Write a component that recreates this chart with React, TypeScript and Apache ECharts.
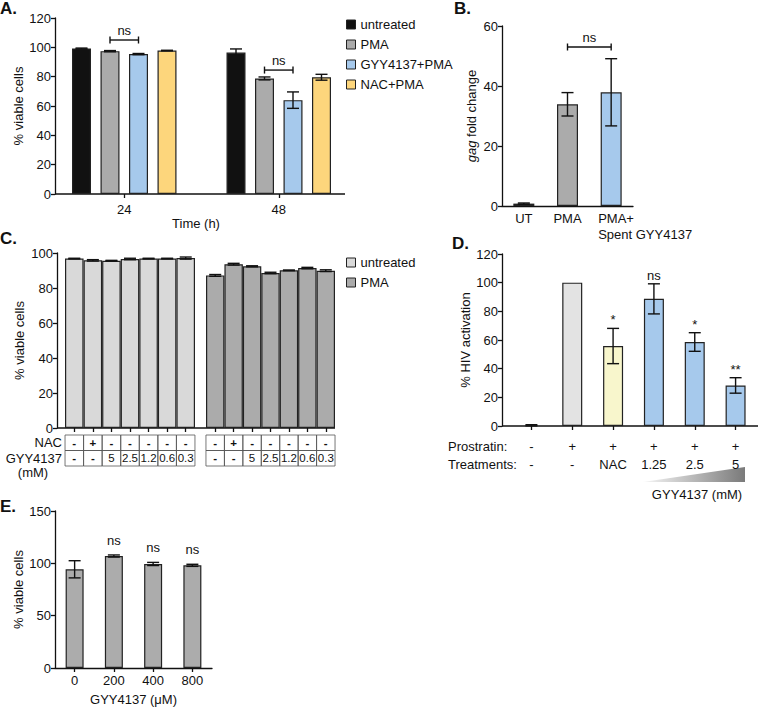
import React, { useEffect, useRef } from 'react';
import * as echarts from 'echarts';

const FONT = '"Liberation Sans", Arial, Helvetica, sans-serif';
const INK = '#111111';
const EDGE = '#222222';

// ---------- Panel A ----------
const aTimes = ['24', '48'];
const aSeriesNames = ['untreated', 'PMA', 'GYY4137+PMA', 'NAC+PMA'];
const aColors = ['#111111', '#ababab', '#a6c9ec', '#fdd67c'];
const aUntreated = [99.2, 96.4];
const aPMA = [97.4, 78.8];
const aGYY = [95.4, 64.0];
const aNAC = [97.8, 79.6];
const aUntreatedErr = [0.3, 2.5];
const aPMAErr = [0.4, 1.0];
const aGYYErr = [0.4, 5.6];
const aNACErr = [0.2, 2.0];
// [category, fromBar, toBar, value]
const aBrackets = [[0, 1, 2, 105], [1, 1, 2, 84.5]];

// ---------- Panel B ----------
const bCats = ['UT', 'PMA', 'PMA+\nSpent GYY4137'];
const bValues = [0.8, 33.9, 37.9];
const bErrors = [0.2, 3.9, 11.2];
const bColors = ['#111111', '#ababab', '#a6c9ec'];
// [fromCategory, toCategory, value]
const bBrackets = [[1, 2, 53]];

// ---------- Panel C ----------
const cNAC = ['-', '+', '-', '-', '-', '-', '-'];
const cGYY = ['-', '-', '5', '2.5', '1.2', '0.6', '0.3'];
const cUntreated = [96.8, 95.8, 95.6, 96.6, 96.8, 96.8, 97.1];
const cUntreatedErr = [0.2, 0.4, 0.2, 0.4, 0.2, 0.2, 0.6];
const cPMA = [87.2, 93.6, 92.4, 88.6, 90.1, 91.4, 89.9];
const cPMAErr = [0.5, 0.5, 0.3, 0.4, 0.2, 0.4, 0.5];

// ---------- Panel D ----------
const dProstratin = ['-', '+', '+', '+', '+', '+'];
const dTreatments = ['-', '-', 'NAC', '1.25', '2.5', '5'];
const dValues = [0.5, 100, 55.8, 88.7, 58.6, 28.3];
const dErrors = [0.4, 0, 12.3, 10.5, 6.5, 5.4];
const dColors = ['transparent', '#e3e3e3', '#f8f6cc', '#a6c9ec', '#a6c9ec', '#a6c9ec'];
const dSignif = ['', '', '*', 'ns', '*', '**'];

// ---------- Panel E ----------
const eDoses = ['0', '200', '400', '800'];
const eValues = [94.3, 107.0, 99.4, 98.1];
const eErrors = [8.2, 1.0, 1.5, 1.0];
const eSignif = ['', 'ns', 'ns', 'ns'];

const lineStyle = { color: INK, width: 1.3 };

function yAxis(grid: number, max: number, interval: number, name: string, nameGap: number, offset = 0, extra: any = {}) {
  return {
    type: 'value', gridIndex: grid, min: 0, max, interval, offset,
    axisLine: { show: true, lineStyle },
    axisTick: { show: true, length: 4, lineStyle },
    splitLine: { show: false },
    axisLabel: { fontSize: 13, color: INK, fontFamily: FONT, margin: 4 },
    name, nameLocation: 'middle', nameGap,
    nameTextStyle: { fontSize: 13, color: INK, fontFamily: FONT },
    ...extra,
  };
}

function errorBars(grid: number, data: number[][], n: number, barW: number, gap: number, capW: number) {
  return {
    type: 'custom', xAxisIndex: grid, yAxisIndex: grid, z: 5, silent: true,
    data,
    encode: { x: 0, y: 2 },
    renderItem: (params: any, api: any) => {
      const cat = api.value(0), k = api.value(1), mean = api.value(2), err = api.value(3);
      if (!err) return { type: 'group', children: [] };
      const off = (k - (n - 1) / 2) * (barW + gap);
      const pt = api.coord([cat, mean + err]);
      const pb = api.coord([cat, Math.max(0, mean - err)]);
      const x = pt[0] + off;
      const style = { stroke: INK, lineWidth: 1.4, fill: null };
      return {
        type: 'group', children: [
          { type: 'line', shape: { x1: x, y1: pt[1], x2: x, y2: pb[1] }, style },
          { type: 'line', shape: { x1: x - capW / 2, y1: pt[1], x2: x + capW / 2, y2: pt[1] }, style },
          { type: 'line', shape: { x1: x - capW / 2, y1: pb[1], x2: x + capW / 2, y2: pb[1] }, style },
        ],
      };
    },
  };
}

function bracketWithin(grid: number, data: number[][], n: number, barW: number, gap: number) {
  return {
    type: 'custom', xAxisIndex: grid, yAxisIndex: grid, z: 6, silent: true,
    data, encode: { x: 0, y: 3 },
    renderItem: (params: any, api: any) => {
      const cat = api.value(0), k1 = api.value(1), k2 = api.value(2), v = api.value(3);
      const p = api.coord([cat, v]);
      const x1 = p[0] + (k1 - (n - 1) / 2) * (barW + gap);
      const x2 = p[0] + (k2 - (n - 1) / 2) * (barW + gap);
      return bracketShape(x1, x2, p[1]);
    },
  };
}

function bracketAcross(grid: number, data: number[][]) {
  return {
    type: 'custom', xAxisIndex: grid, yAxisIndex: grid, z: 6, silent: true,
    data, encode: { x: 0, y: 2 },
    renderItem: (params: any, api: any) => {
      const p1 = api.coord([api.value(0), api.value(2)]);
      const p2 = api.coord([api.value(1), api.value(2)]);
      return bracketShape(p1[0], p2[0], p1[1]);
    },
  };
}

function bracketShape(x1: number, x2: number, y: number) {
  const style = { stroke: INK, lineWidth: 1.4, fill: null };
  return {
    type: 'group', children: [
      { type: 'line', shape: { x1, y1: y, x2, y2: y }, style },
      { type: 'line', shape: { x1, y1: y - 3.5, x2: x1, y2: y + 3.5 }, style },
      { type: 'line', shape: { x1: x2, y1: y - 3.5, x2, y2: y + 3.5 }, style },
      {
        type: 'text', x: (x1 + x2) / 2, y: y - 3,
        style: { text: 'ns', fontSize: 13, fontFamily: FONT, fill: INK, align: 'center', verticalAlign: 'bottom', textAlign: 'center', textVerticalAlign: 'bottom' },
      },
    ],
  };
}

function signif(grid: number, values: number[], errors: number[], labels: string[], dy: number) {
  return {
    type: 'custom', xAxisIndex: grid, yAxisIndex: grid, z: 6, silent: true,
    data: values.map((v, i) => [i, v + errors[i]]),
    encode: { x: 0, y: 1 },
    renderItem: (params: any, api: any) => {
      const p = api.coord([api.value(0), api.value(1)]);
      return {
        type: 'text', x: p[0], y: p[1] + dy,
        style: { text: labels[params.dataIndex], fontSize: 13, fontFamily: FONT, fill: INK, align: 'center', verticalAlign: 'bottom', textAlign: 'center', textVerticalAlign: 'bottom' },
      };
    },
  };
}

function txt(text: string, x: number, y: number, opts: any = {}) {
  return {
    type: 'text', x, y, silent: true,
    style: {
      text, fontSize: 13, fontFamily: FONT, fill: INK,
      align: opts.align || 'left', verticalAlign: 'middle',
      textAlign: opts.align || 'left', textVerticalAlign: 'middle',
      fontWeight: opts.bold ? 'bold' : 'normal',
      ...(opts.size ? { fontSize: opts.size } : {}),
    },
  };
}

function hline(x1: number, x2: number, y: number) {
  return { type: 'line', silent: true, shape: { x1, y1: y, x2, y2: y }, style: { stroke: INK, lineWidth: 1.3 } };
}

function buildOption(): any {
  const barItem = (color: string) => ({ color, borderColor: EDGE, borderWidth: 1.2 });
  const aVals = [aUntreated, aPMA, aGYY, aNAC];
  const aErrs = [aUntreatedErr, aPMAErr, aGYYErr, aNACErr];
  const aErrData: number[][] = [];
  aVals.forEach((vals, k) => vals.forEach((v, c) => aErrData.push([c, k, v, aErrs[k][c]])));

  const cell = {
    width: 18.5, height: 15.5, lineHeight: 15.5, align: 'center', verticalAlign: 'middle',
    borderColor: '#555', borderWidth: 0.8, fontSize: 11.5, fontFamily: FONT, color: INK,
  };
  const tableRich = { c: cell, d: { ...cell, fontWeight: 'bold' } };
  const tok = (s: string) => (s === '-' || s === '+' ? `{d|${s}}` : `{c|${s}}`);
  const tableLabel = {
    interval: 0, margin: 7, rich: tableRich,
    formatter: (_v: string, i: number) => `${tok(cNAC[i])}\n${tok(cGYY[i])}`,
  };
  const cIdx = cNAC.map((_, i) => String(i));
  const catTick = { show: true, alignWithLabel: true, length: 4, lineStyle };

  return {
    animation: false,
    backgroundColor: '#ffffff',
    textStyle: { fontFamily: FONT },
    grid: [
      { left: 47, top: 18, width: 309, height: 176 },
      { left: 502, top: 26, width: 131, height: 180 },
      { left: 65, top: 253, width: 130, height: 175 },
      { left: 206, top: 253, width: 129, height: 175 },
      { left: 511, top: 254, width: 245, height: 172 },
      { left: 55, top: 511, width: 157, height: 157 },
    ],
    xAxis: [
      {
        type: 'category', gridIndex: 0, data: aTimes,
        axisLine: { show: false }, axisTick: catTick,
        axisLabel: { margin: 9, fontSize: 13, color: INK, fontFamily: FONT },
        name: 'Time (h)', nameLocation: 'middle', nameGap: 18,
        nameTextStyle: { fontSize: 13, color: INK, fontFamily: FONT, padding: [0, 11, 0, 0] },
      },
      {
        type: 'category', gridIndex: 1, data: bCats,
        axisLine: { show: true, lineStyle }, axisTick: { show: false },
        axisLabel: {
          interval: 0, margin: 4, fontSize: 13, color: INK, fontFamily: FONT, lineHeight: 16,
          formatter: (v: string, i: number) => i === 2 ? v.split('\n').map((s) => `{l|${s}}`).join('\n') : v,
          rich: { l: { align: 'left', width: 26, overflow: 'none', fontSize: 13, fontFamily: FONT, color: INK, lineHeight: 16 } },
        },
      },
      {
        type: 'category', gridIndex: 2, data: cIdx,
        axisLine: { show: false }, axisTick: catTick, axisLabel: tableLabel,
      },
      {
        type: 'category', gridIndex: 3, data: cIdx,
        axisLine: { show: false }, axisTick: catTick, axisLabel: tableLabel,
      },
      {
        type: 'category', gridIndex: 4, data: dTreatments,
        axisLine: { show: false }, axisTick: catTick,
        axisLabel: {
          interval: 0, margin: 11, fontSize: 13, color: INK, fontFamily: FONT, lineHeight: 18,
          formatter: (_v: string, i: number) => `${dProstratin[i]}\n${dTreatments[i]}`,
        },
      },
      {
        type: 'category', gridIndex: 5, data: eDoses,
        axisLine: { show: true, lineStyle }, axisTick: catTick,
        axisLabel: { margin: 6, fontSize: 13, color: INK, fontFamily: FONT },
        name: 'GYY4137 (μM)', nameLocation: 'middle', nameGap: 25,
        nameTextStyle: { fontSize: 13, color: INK, fontFamily: FONT },
      },
    ],
    yAxis: [
      yAxis(0, 120, 20, '% viable cells', 30, -8),
      yAxis(1, 60, 20, '{i|gag} fold change', 24, 0, {
        nameTextStyle: { fontSize: 13, color: INK, fontFamily: FONT, rich: { i: { fontStyle: 'italic', fontSize: 13, fontFamily: FONT, color: INK } } },
      }),
      yAxis(2, 100, 20, '% viable cells', 31, 8),
      { ...yAxis(3, 100, 20, '', 0), show: false },
      yAxis(4, 120, 20, '% HIV activation', 24, 9),
      yAxis(5, 150, 50, '% viable cells', 30),
    ],
    legend: [
      {
        left: 341, top: 13, orient: 'vertical', data: aSeriesNames, selectedMode: false,
        icon: 'rect', itemWidth: 9, itemHeight: 9, itemGap: 7,
        itemStyle: { borderColor: EDGE, borderWidth: 1 },
        textStyle: { fontSize: 13, color: INK, fontFamily: FONT },
      },
      {
        left: 341, top: 251, orient: 'vertical', data: ['C:untreated', 'C:PMA'], selectedMode: false,
        icon: 'rect', itemWidth: 9, itemHeight: 9, itemGap: 7,
        itemStyle: { borderColor: EDGE, borderWidth: 1 },
        formatter: (n: string) => n.replace('C:', ''),
        textStyle: { fontSize: 13, color: INK, fontFamily: FONT },
      },
    ],
    series: [
      ...aSeriesNames.map((name, k) => ({
        type: 'bar', name, xAxisIndex: 0, yAxisIndex: 0, data: aVals[k],
        barWidth: 19, barGap: '50%', itemStyle: barItem(aColors[k]),
      })),
      errorBars(0, aErrData, 4, 19, 9.5, 12),
      bracketWithin(0, aBrackets, 4, 19, 9.5),

      {
        type: 'bar', name: 'B', xAxisIndex: 1, yAxisIndex: 1, barWidth: 21,
        data: bValues.map((v, i) => ({ value: v, itemStyle: barItem(bColors[i]) })),
      },
      errorBars(1, bValues.map((v, i) => [i, 0, v, bErrors[i]]), 1, 21, 0, 12),
      bracketAcross(1, bBrackets),

      {
        type: 'bar', name: 'C:untreated', xAxisIndex: 2, yAxisIndex: 2, data: cUntreated,
        barCategoryGap: '0%', itemStyle: barItem('#d9d9d9'),
      },
      errorBars(2, cUntreated.map((v, i) => [i, 0, v, cUntreatedErr[i]]), 1, 18, 0, 12),
      {
        type: 'bar', name: 'C:PMA', xAxisIndex: 3, yAxisIndex: 3, data: cPMA,
        barCategoryGap: '0%', itemStyle: barItem('#ababab'),
      },
      errorBars(3, cPMA.map((v, i) => [i, 0, v, cPMAErr[i]]), 1, 18, 0, 12),

      {
        type: 'bar', name: 'D', xAxisIndex: 4, yAxisIndex: 4, barWidth: 20,
        data: dValues.map((v, i) => ({
          value: v,
          itemStyle: i === 0 ? { color: 'transparent', borderWidth: 0 } : barItem(dColors[i]),
        })),
      },
      errorBars(4, dValues.map((v, i) => [i, 0, v, dErrors[i]]), 1, 20, 0, 12),
      signif(4, dValues, dErrors, dSignif, -2),

      {
        type: 'bar', name: 'E', xAxisIndex: 5, yAxisIndex: 5, barWidth: 18,
        data: eValues, itemStyle: barItem('#acacac'),
      },
      errorBars(5, eValues.map((v, i) => [i, 0, v, eErrors[i]]), 1, 18, 0, 12),
      signif(5, eValues, eErrors, eSignif, -8),
    ],
    graphic: [
      txt('A.', 0, 8, { bold: true, size: 17 }),
      txt('B.', 454, 8, { bold: true, size: 17 }),
      txt('C.', 0, 238, { bold: true, size: 17 }),
      txt('D.', 452, 243, { bold: true, size: 17 }),
      txt('E.', 0, 506, { bold: true, size: 17 }),
      hline(55, 345, 194),
      hline(57, 335, 428),
      hline(502, 758, 426),
      txt('NAC', 62, 442, { align: 'right' }),
      txt('GYY4137', 62, 458, { align: 'right' }),
      txt('(mM)', 33, 472, { align: 'center' }),
      txt('Prostratin:', 448, 446),
      txt('Treatments:', 448, 464),
      {
        type: 'polygon', silent: true,
        shape: { points: [[643, 482], [745, 467], [745, 482]] },
        style: {
          fill: new echarts.graphic.LinearGradient(0, 0, 1, 0, [
            { offset: 0, color: '#f6f6f6' },
            { offset: 1, color: '#7a7a7a' },
          ]),
        },
      },
      txt('GYY4137 (mM)', 697, 494, { align: 'center' }),
    ],
  };
}

export default function App() {
  const ref = useRef<HTMLDivElement>(null);
  useEffect(() => {
    const chart = echarts.init(ref.current!, null, { renderer: 'svg' });
    chart.setOption(buildOption());
    return () => chart.dispose();
  }, []);
  return (
    <div
      ref={ref}
      style={{ position: 'absolute', left: 0, top: 0, width: 763, height: 710, background: '#ffffff' }}
    />
  );
}
